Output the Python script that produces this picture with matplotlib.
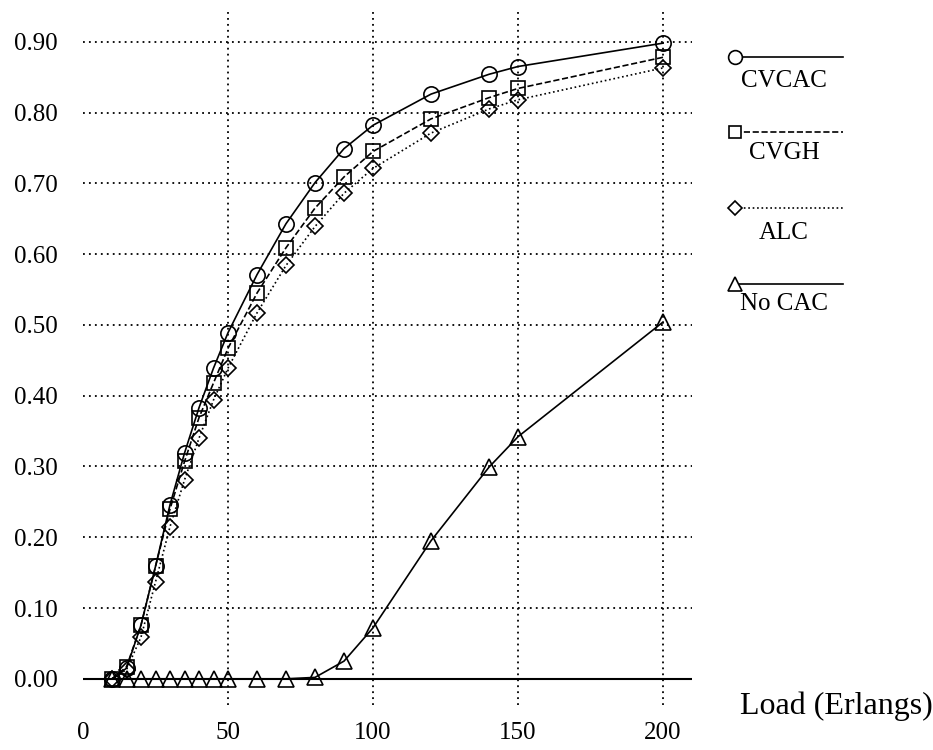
import matplotlib
matplotlib.use("Agg")
import matplotlib.pyplot as plt
from matplotlib.lines import Line2D

# Load in Erlangs
load = [10, 15, 20, 25, 30, 35, 40, 45, 50, 60, 70, 80, 90, 100, 120, 140, 150, 200]

cvcac = [0.000, 0.015, 0.076, 0.159, 0.246, 0.319, 0.383, 0.439, 0.489,
         0.571, 0.643, 0.701, 0.749, 0.782, 0.826, 0.854, 0.865, 0.898]
cvgh = [0.000, 0.017, 0.076, 0.159, 0.240, 0.307, 0.369, 0.418, 0.467,
        0.545, 0.609, 0.665, 0.709, 0.745, 0.791, 0.821, 0.834, 0.878]
alc = [0.000, 0.013, 0.059, 0.137, 0.215, 0.281, 0.340, 0.394, 0.439,
       0.517, 0.584, 0.639, 0.686, 0.721, 0.771, 0.805, 0.818, 0.863]
no_cac = [0.000, 0.000, 0.000, 0.000, 0.000, 0.000, 0.000, 0.000, 0.000,
          0.000, 0.000, 0.002, 0.025, 0.072, 0.195, 0.299, 0.342, 0.504]

labels = ['CVCAC', 'CVGH', 'ALC', 'No CAC']
styles = [('o', '-'), ('s', '--'), ('D', ':'), ('^', '-')]
x_ticks = [0, 50, 100, 150, 200]
y_ticks = [0.0, 0.1, 0.2, 0.3, 0.4, 0.5, 0.6, 0.7, 0.8, 0.9]

plt.rcParams['font.family'] = ['Liberation Serif', 'DejaVu Serif']

fig = plt.figure(figsize=(9.33, 7.5), dpi=100)
ax = fig.add_axes([0.089, 0.06, 0.6527, 0.924])

msizes = [11, 10, 8, 11]
series = [cvcac, cvgh, alc, no_cac]
for vals, (m, ls), ms in zip(series, styles, msizes):
    ax.plot(load, vals, linestyle=ls, color='black', linewidth=1.2,
            marker=m, markersize=ms, markerfacecolor='none',
            markeredgecolor='black', markeredgewidth=1.2, zorder=3)

ax.axhline(0, color='black', linewidth=1.5, zorder=2)

ax.set_xlim(0, 210)
ax.set_ylim(-0.037, 0.942)
ax.set_xticks(x_ticks)
ax.set_yticks(y_ticks)
ax.set_yticklabels([f'{v:.2f}' for v in y_ticks])
ax.tick_params(length=0, labelsize=18)
ax.tick_params(axis='x', pad=12)
ax.tick_params(axis='y', pad=18)
for s in ax.spines.values():
    s.set_visible(False)
ax.grid(True, linestyle=(0, (1, 2.3)), color='black', linewidth=1.3)
ax.get_xgridlines()[0].set_visible(False)
ax.get_ygridlines()[0].set_visible(False)

# legend drawn by hand: marker, line, label underneath
lax = fig.add_axes([0, 0, 1, 1])
lax.set_xlim(0, 933)
lax.set_ylim(750, 0)
lax.axis('off')
leg_y = [57, 132, 208, 284]
leg_dy = [24, 21, 25, 20]
for (m, ls), lab, ms, yy, dy in zip(styles, labels, msizes, leg_y, leg_dy):
    lax.add_line(Line2D([735, 843], [yy, yy], linestyle=ls, color='black',
                        linewidth=1.2))
    lax.add_line(Line2D([735], [yy], marker=m, markersize=ms * 0.9,
                        markerfacecolor='white', markeredgecolor='black',
                        markeredgewidth=1.2, linestyle='none'))
    lax.text(784, yy + dy, lab, ha='center', va='center', fontsize=18)

lax.text(836, 706, 'Load (Erlangs)', ha='center', va='center', fontsize=23)

fig.savefig('out.png', dpi=100)
